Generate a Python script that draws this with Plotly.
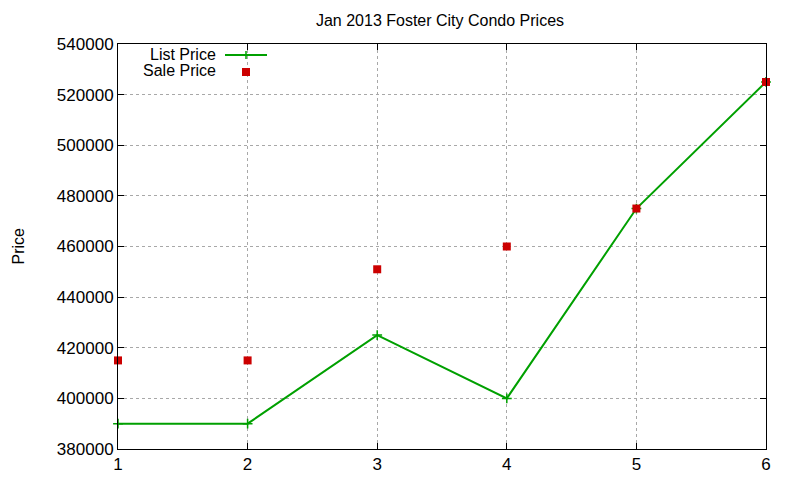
import plotly.graph_objects as go

x_vals = [1, 2, 3, 4, 5, 6]
list_price = [390000, 390000, 425000, 400000, 475000, 525000]
sale_price = [415000, 415000, 451000, 460000, 475000, 525000]
y_ticks = [380000, 400000, 420000, 440000, 460000, 480000, 500000, 520000, 540000]

GREEN = "#00a000"
RED = "#cc0000"
FONT = "Liberation Sans, Arial, sans-serif"

fig = go.Figure()
fig.add_trace(go.Scatter(x=x_vals, y=list_price, mode="lines+markers", name="List Price",
                         line=dict(color=GREEN, width=2),
                         marker=dict(symbol="cross-thin", size=7, line=dict(color=GREEN, width=1.5)),
                         cliponaxis=False))
fig.add_trace(go.Scatter(x=x_vals, y=sale_price, mode="markers", name="Sale Price",
                         marker=dict(symbol="square", size=8, color=RED),
                         cliponaxis=False))

OFF = 8  # page body margin
W, H = 792, 472
L, R, T, B = 118 - OFF, 766 - OFF, 44 - OFF, 449 - OFF
def px(x): return (x - OFF - L) / (R - L)
def py(y): return (B - (y - OFF)) / (B - T)

# manual legend (gnuplot style: text then sample)
shapes = [
    dict(type="line", xref="paper", yref="paper", x0=px(225), x1=px(267), y0=py(55), y1=py(55),
         line=dict(color=GREEN, width=2)),
    dict(type="line", xref="paper", yref="paper", x0=px(246), x1=px(246), y0=py(51), y1=py(59),
         line=dict(color=GREEN, width=1.5)),
    dict(type="rect", xref="paper", yref="paper", x0=px(242), x1=px(250), y0=py(68), y1=py(76),
         fillcolor=RED, line=dict(width=0)),
]
annotations = [
    dict(text="List Price", xref="paper", yref="paper", x=px(218), y=py(55), xanchor="right",
         yanchor="middle", showarrow=False, font=dict(family=FONT, size=16, color="black")),
    dict(text="Sale Price", xref="paper", yref="paper", x=px(218), y=py(71), xanchor="right",
         yanchor="middle", showarrow=False, font=dict(family=FONT, size=16, color="black")),
    dict(text="Price", xref="paper", yref="paper", x=px(8), y=py(246), xanchor="left",
         yanchor="middle", textangle=-90, showarrow=False, borderpad=0,
         font=dict(family=FONT, size=16, color="black")),
]

fig.update_layout(
    width=W, height=H,
    margin=dict(l=L, r=W - R, t=T, b=H - B, autoexpand=False),
    paper_bgcolor="white", plot_bgcolor="white",
    showlegend=False,
    title=dict(text="Jan 2013 Foster City Condo Prices", x=(440 - OFF) / W, xanchor="center",
               y=1 - (20 - OFF) / H, yanchor="middle", font=dict(family=FONT, size=16, color="black")),
    font=dict(family=FONT, size=16, color="black"),
    shapes=shapes, annotations=annotations,
)
fig.update_xaxes(range=[1, 6], tickvals=x_vals, ticks="inside", ticklen=6, tickcolor="black",
                 showgrid=True, gridcolor="#a8a8a8", griddash="dot", gridwidth=1,
                 showline=True, linecolor="black", linewidth=1, mirror="ticks", zeroline=False,
                 automargin=False, tickfont=dict(family=FONT, size=17))
fig.update_yaxes(range=[380000, 540000], tickvals=y_ticks, tickformat="d", ticks="inside",
                 ticklen=6, tickcolor="black",
                 showgrid=True, gridcolor="#a8a8a8", griddash="dot", gridwidth=1,
                 showline=True, linecolor="black", linewidth=1, mirror="ticks", zeroline=False,
                 automargin=False, tickfont=dict(family=FONT, size=17))

fig.write_html("out.html")
